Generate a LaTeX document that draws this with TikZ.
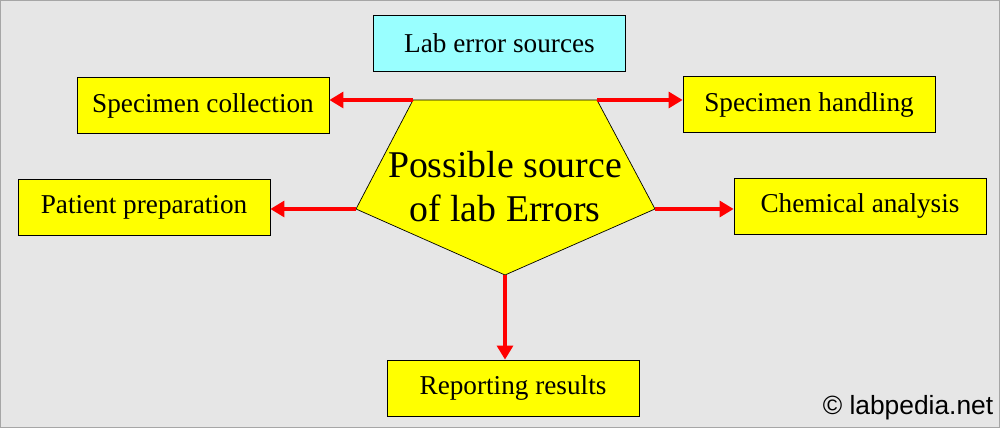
\documentclass[tikz,border=0pt]{standalone}
\usepackage{fontspec}
\setmainfont{Liberation Serif}
\newfontfamily\markfont{Liberation Sans}
\usetikzlibrary{arrows.meta}
\definecolor{bggray}{HTML}{E6E6E6}
\definecolor{boxyellow}{HTML}{FFFF00}
\definecolor{boxcyan}{HTML}{99FFFF}
\tikzset{
  srcbox/.style={draw=black, fill=boxyellow, minimum width=5.04cm, minimum height=1.12cm, font=\fontsize{15.5}{18}\selectfont},
  arrowline/.style={draw=red, line width=2.6pt, -{Triangle[length=8pt,width=9pt]}}
}
\begin{document}
\begin{tikzpicture}[x=0.02cm,y=-0.02cm]
        % Background
        \fill[bggray] (0,0) rectangle (1000,428);
        \draw[gray!70] (0.5,0.5) rectangle (999.5,427.5);
        \useasboundingbox (0,0) rectangle (1000,428);

        % Boxes
        \node[srcbox, fill=boxcyan] (title) at (499.5,43) {Lab error sources};
        \node[srcbox] (collect) at (203,105.5) {Specimen collection};
        \node[srcbox] (handle) at (809,104.5) {Specimen handling};
        \node[srcbox] (patient) at (144,207) {Patient preparation};
        \node[srcbox] (chem) at (860,206) {Chemical analysis};
        \node[srcbox] (report) at (513,388) {Reporting results};

        % Pentagon
        \coordinate (ptl) at (413,100);
        \coordinate (ptr) at (597,100);
        \coordinate (pr) at (655,209);
        \coordinate (pb) at (505,275);
        \coordinate (pl) at (356,209);
        \draw[fill=boxyellow] (ptl) -- (ptr) -- (pr) -- (pb) -- (pl) -- cycle;
        \node[align=center, font=\fontsize{21.5}{25}\selectfont] (centre) at (505,187) {Possible source\\of lab Errors};

        % Arrows
        \draw[arrowline] (ptl) -- (collect.east |- ptl);
        \draw[arrowline] (ptr) -- (handle.west |- ptr);
        \draw[arrowline] (pl) -- (patient.east |- pl);
        \draw[arrowline] (pr) -- (chem.west |- pr);
        \draw[arrowline] (pb) -- (report.north -| pb);

        % Mark
        \node[font=\markfont\fontsize{15}{18}\selectfont] (mark) at (908,408) {\textcopyright\ labpedia.net};
\end{tikzpicture}
\end{document}
